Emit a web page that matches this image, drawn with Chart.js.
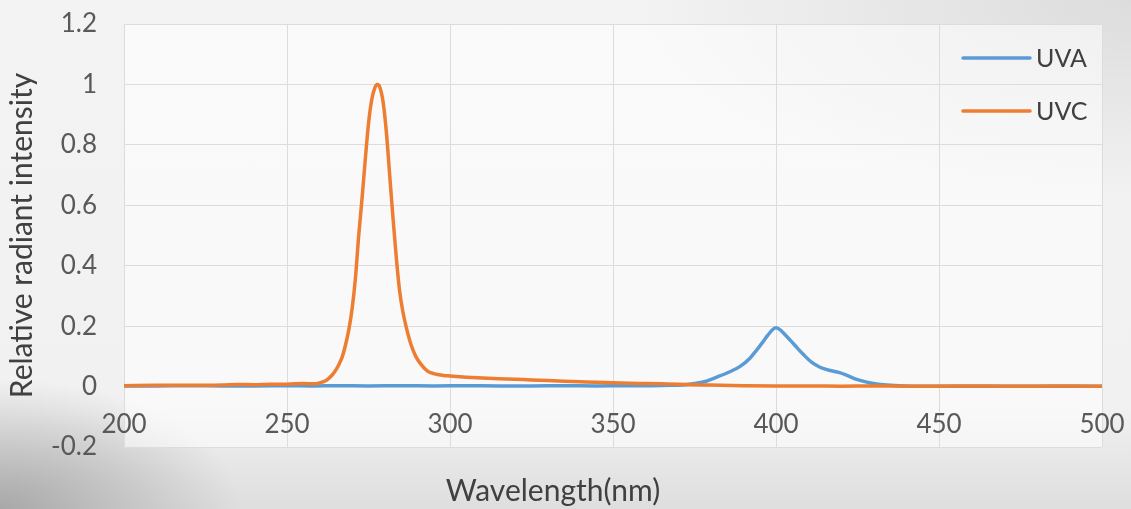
<!DOCTYPE html>
<html>
<head>
<meta charset="utf-8">
<script src="https://cdn.jsdelivr.net/npm/chart.js@4/dist/chart.umd.min.js"></script>
<style>
  html, body { margin: 0; padding: 0; }
  body {
    width: 1131px; height: 509px; overflow: hidden;
    background:
      radial-gradient(ellipse 240px 130px at 0% 100%, rgba(150,150,150,0.75), rgba(150,150,150,0) 100%),
      radial-gradient(ellipse 500px 200px at 100% 0%, rgba(215,215,215,0.8), rgba(215,215,215,0) 100%),
      linear-gradient(to bottom, #f3f3f3 0%, #f1f1f1 80%, #dedede 100%);
  }
  #wrap { position: relative; width: 1131px; height: 509px; }
</style>
</head>
<body>
<div id="wrap"><canvas id="spectrum"></canvas></div>
<script>
// wavelengths (nm) and relative intensity
const uvaWavelength = [200, 210, 220, 230, 240, 250, 258, 265, 275, 285, 295, 305, 315, 325, 335, 345, 355, 362, 368,
  372, 375, 378, 382, 386, 389, 392, 394, 396, 397.5, 399, 400, 401, 402.5, 404.5, 406.5, 408.5, 411, 413.5, 416,
  419.5, 422, 425, 429, 434, 440, 450, 460, 470, 480, 490, 500];
const uvaIntensity = [0.002, 0.002, 0.003, 0.002, 0.002, 0.003, 0.002, 0.003, 0.002, 0.003, 0.002, 0.003, 0.002, 0.002, 0.003, 0.002, 0.003, 0.003, 0.004,
  0.006, 0.01, 0.016, 0.032, 0.05, 0.067, 0.094, 0.12, 0.148, 0.17, 0.189, 0.195, 0.19, 0.175, 0.152, 0.128, 0.105, 0.08, 0.064, 0.055,
  0.046, 0.036, 0.023, 0.012, 0.005, 0.002, 0.001, 0.001, 0.001, 0.001, 0.001, 0.001];

const uvcWavelength = [200, 210, 220, 230, 235, 240, 245, 250, 255, 258, 260, 262, 264, 265, 266, 267, 268, 269, 270,
  271, 272, 273, 274, 275, 276, 277, 277.7, 278.5, 279.5, 280.5, 281.5, 282.5, 283.5, 284.5, 285.5, 286.5, 288, 289.5,
  291, 293, 295, 298, 300, 305, 310, 315, 320, 325, 330, 335, 340, 345, 350, 355, 360, 365, 370, 375, 380, 390, 400,
  410, 420, 430, 440, 450, 460, 470, 480, 490, 500];
const uvcIntensity = [0.003, 0.004, 0.004, 0.005, 0.007, 0.006, 0.008, 0.008, 0.01, 0.009, 0.012, 0.02, 0.04, 0.055, 0.075, 0.1, 0.14, 0.19, 0.26,
  0.36, 0.5, 0.62, 0.75, 0.87, 0.95, 0.99, 1.0, 0.99, 0.94, 0.84, 0.7, 0.56, 0.43, 0.32, 0.25, 0.2, 0.14, 0.1,
  0.075, 0.052, 0.043, 0.037, 0.035, 0.031, 0.028, 0.026, 0.024, 0.022, 0.02, 0.018, 0.016, 0.014, 0.013, 0.011, 0.01, 0.009, 0.008, 0.006, 0.005, 0.003, 0.002,
  0.002, 0.001, 0.002, 0.001, 0.001, 0.002, 0.001, 0.001, 0.002, 0.001];

const xTicks = [200, 250, 300, 350, 400, 450, 500];
const yTicks = [-0.2, 0, 0.2, 0.4, 0.6, 0.8, 1, 1.2];

const toPoints = (xs, ys) => xs.map((x, i) => ({ x: x, y: ys[i] }));

// light plot area like the original
const plotBackground = {
  id: 'plotBackground',
  beforeDraw(chart) {
    const { ctx, chartArea: a } = chart;
    ctx.save();
    ctx.fillStyle = 'rgba(255,255,255,0.55)';
    ctx.fillRect(a.left, a.top, a.right - a.left, a.bottom - a.top);
    ctx.restore();
  }
};

// stacked legend in the top right corner of the plot
const cornerLegend = {
  id: 'cornerLegend',
  afterDraw(chart) {
    const ctx = chart.ctx;
    const a = chart.chartArea;
    ctx.save();
    ctx.font = '25px Lato';
    ctx.textBaseline = 'middle';
    ctx.textAlign = 'left';
    chart.data.datasets.forEach((ds, i) => {
      const y = a.top + 34 + i * 53;
      const x0 = a.right - 139;
      ctx.strokeStyle = ds.borderColor;
      ctx.lineWidth = 3.5;
      ctx.lineCap = 'round';
      ctx.beginPath();
      ctx.moveTo(x0, y);
      ctx.lineTo(x0 + 67, y);
      ctx.stroke();
      ctx.fillStyle = '#404040';
      ctx.fillText(ds.label, x0 + 73, y + 1);
    });
    ctx.restore();
  }
};

const ctx = document.getElementById('spectrum').getContext('2d');
new Chart(ctx, {
  type: 'line',
  data: {
    datasets: [
      {
        label: 'UVA',
        data: toPoints(uvaWavelength, uvaIntensity),
        borderColor: '#5b9bd5',
        borderWidth: 3.5,
        pointRadius: 0,
        cubicInterpolationMode: 'monotone',
        order: 1
      },
      {
        label: 'UVC',
        data: toPoints(uvcWavelength, uvcIntensity),
        borderColor: '#ed7d31',
        borderWidth: 3.5,
        pointRadius: 0,
        cubicInterpolationMode: 'monotone',
        order: 0
      }
    ]
  },
  options: {
    responsive: true,
    maintainAspectRatio: false,
    animation: false,
    layout: { padding: { left: 4, right: 29, top: 24, bottom: 0 } },
    plugins: {
      legend: { display: false },
      tooltip: { enabled: false },
      title: {
        display: true,
        position: 'bottom',
        text: 'Wavelength(nm)',
        color: '#404040',
        font: { family: 'Lato', size: 30, weight: 'normal' },
        padding: { top: 26, bottom: 0 }
      }
    },
    scales: {
      x: {
        type: 'linear',
        position: { y: 0 },
        min: 200,
        max: 500,
        afterBuildTicks: (axis) => { axis.ticks = xTicks.map(v => ({ value: v })); },
        afterFit: (axis) => {
          axis.height = 0;
          axis.paddingLeft = 0;
          axis.paddingRight = 0;
        },
        ticks: {
          color: '#595959',
          font: { family: 'Lato', size: 26 },
          padding: 22
        },
        grid: { color: '#dcdcdc', lineWidth: 1, drawTicks: false },
        border: { display: false }
      },
      y: {
        min: -0.2,
        max: 1.2,
        afterBuildTicks: (axis) => { axis.ticks = yTicks.map(v => ({ value: v })); },
        afterFit: (axis) => {
          axis.width = 120;
          axis.paddingTop = 0;
          axis.paddingBottom = 0;
        },
        ticks: {
          color: '#595959',
          font: { family: 'Lato', size: 26 },
          padding: 27,
          callback: (v) => String(+v.toFixed(1))
        },
        grid: { color: '#dcdcdc', lineWidth: 1, drawTicks: false },
        border: { display: false },
        title: {
          display: true,
          text: 'Relative radiant intensity',
          color: '#404040',
          font: { family: 'Lato', size: 30 },
          padding: { top: 0, bottom: 4 }
        }
      }
    }
  },
  plugins: [plotBackground, cornerLegend]
});
</script>
</body>
</html>
